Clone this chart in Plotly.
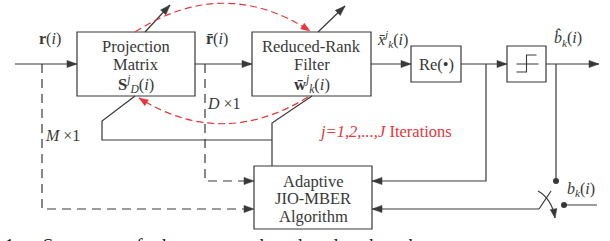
import plotly.graph_objects as go
import math

W, H = 610, 241
INK = "#383838"
RED = "#e8353b"
FONT = "Liberation Serif"

# ---- blocks ----
block_x0 = [77, 252, 411, 507, 254]
block_y0 = [32, 32, 46, 46, 166]
block_x1 = [195, 371, 461, 546, 372]
block_y1 = [96, 96, 82, 82, 229]
block_lines = [
    ["Projection", "Matrix", "<b>S</b><sup><i>j</i></sup><sub><i>D</i></sub>(<i>i</i>)"],
    ["Reduced-Rank", "Filter", "<b>w\u0304</b><sup><i>j</i></sup><sub><i>k</i></sub>(<i>i</i>)"],
    ["Re(•)"],
    [],
    ["Adaptive", "JIO-MBER", "Algorithm"],
]
block_line_y = [[46, 64, 84], [46, 64, 84], [64], [], [181, 198, 216]]

# ---- connections: (points, dashed, arrow) ----
links = [
    ([(15, 64), (77, 64)], False, True),
    ([(195, 64), (252, 64)], False, True),
    ([(371, 64), (411, 64)], False, True),
    ([(461, 64), (507, 64)], False, True),
    ([(546, 64), (599, 64)], False, True),
    ([(42, 64), (42, 209), (254, 209)], True, True),
    ([(205, 64), (205, 181), (254, 181)], True, True),
    ([(486, 64), (486, 181), (372, 181)], False, True),
    ([(556, 64), (556, 181)], False, False),
    ([(539, 209), (372, 209)], False, True),
    ([(539, 209), (551, 191)], False, False),
    ([(564, 205), (597, 205)], False, False),
    ([(135, 96), (102, 121), (102, 140), (272, 140)], False, False),
    ([(312, 96), (272, 123), (272, 166)], False, False),
    ([(145, 32), (170, 5)], False, True),
    ([(318, 32), (345, 6)], False, True),
]

# ---- curved arrows: (start, control, end, colour, dashed) ----
curves = [
    ((135, 32), (224, -25), (310, 31), RED, True),
    ((308, 97), (222, 150), (139, 98), RED, True),
    ((538, 191), (552, 199), (555, 218), INK, False),
]

dots = [(556, 181), (564, 205)]

# ---- signal labels: (text, x, y, colour, size) ----
labels = [
    ("<b>r</b>(<i>i</i>)", 50, 39, INK, 16),
    ("<b>r\u0304</b>(<i>i</i>)", 217, 39, INK, 16),
    ("<i>x\u0304</i><sup><i>j</i></sup><sub><i>k</i></sub>(<i>i</i>)", 392, 39, INK, 16),
    ("<i>b\u0302</i><sub><i>k</i></sub>(<i>i</i>)", 568, 38, INK, 16),
    ("<i>b</i><sub><i>k</i></sub>(<i>i</i>)", 581, 189, INK, 16),
    ("<i>D</i> ×1", 224, 103, INK, 16),
    ("<i>M</i> ×1", 62, 135, INK, 16),
    ("<i>j=1,2,...,J</i> Iterations", 385, 131, RED, 16.5),
]

caption = "Fig. 1.     Structure   of   the   proposed   reduced-rank   scheme"

# ---------------------------------------------------------------
shapes = []
annotations = []


def arrowhead(tip, frm, color, length=10, half=3.6):
    dx, dy = tip[0] - frm[0], tip[1] - frm[1]
    d = math.hypot(dx, dy)
    ux, uy = dx / d, dy / d
    bx, by = tip[0] - ux * length, tip[1] - uy * length
    px, py = -uy * half, ux * half
    path = f"M {tip[0]},{tip[1]} L {bx+px},{by+py} L {bx-px},{by-py} Z"
    shapes.append(dict(type="path", path=path, fillcolor=color,
                       line=dict(color=color, width=0.5), xref="x", yref="y"))


for x0, y0, x1, y1 in zip(block_x0, block_y0, block_x1, block_y1):
    shapes.append(dict(type="rect", x0=x0, y0=y0, x1=x1, y1=y1,
                       line=dict(color=INK, width=1.2), fillcolor="rgba(0,0,0,0)"))

for i, lines in enumerate(block_lines):
    cx = (block_x0[i] + block_x1[i]) / 2
    for t, y in zip(lines, block_line_y[i]):
        annotations.append(dict(x=cx, y=y, text=t, showarrow=False,
                                font=dict(family=FONT, size=16.5, color=INK),
                                xanchor="center", yanchor="middle"))

# step symbol inside the decision block
sx = (block_x0[3] + block_x1[3]) / 2
sy = (block_y0[3] + block_y1[3]) / 2
step_path = (f"M {sx-10},{sy+8} L {sx},{sy+8} L {sx},{sy-9} L {sx+10},{sy-9} "
             f"M {sx-10},{sy} L {sx+12},{sy}")
shapes.append(dict(type="path", path=step_path, line=dict(color=INK, width=1.1)))

for pts, dashed, arrow in links:
    path = "M " + " L ".join(f"{x},{y}" for x, y in pts)
    shapes.append(dict(type="path", path=path,
                       line=dict(color=INK, width=1.2, dash="9px,6px" if dashed else "solid")))
    if arrow:
        arrowhead(pts[-1], pts[-2], INK)

for s, c, e, col, dashed in curves:
    path = f"M {s[0]},{s[1]} Q {c[0]},{c[1]} {e[0]},{e[1]}"
    shapes.append(dict(type="path", path=path,
                       line=dict(color=col, width=1.2, dash="7px,4px" if dashed else "solid")))
    arrowhead(e, c, col, length=9, half=3.4)

for x, y in dots:
    shapes.append(dict(type="circle", x0=x - 3, y0=y - 3, x1=x + 3, y1=y + 3,
                       fillcolor=INK, line=dict(color=INK, width=0)))

for t, x, y, col, size in labels:
    annotations.append(dict(x=x, y=y, text=t, showarrow=False,
                            font=dict(family=FONT, size=size, color=col),
                            xanchor="center", yanchor="middle"))

annotations.append(dict(x=-0.052, xref="paper", y=233, yref="y", text=caption,
                        showarrow=False,
                        font=dict(family=FONT, size=19, color="#111"),
                        xanchor="left", yanchor="top"))

fig = go.Figure()
fig.update_layout(
    width=W, height=H, margin=dict(l=0, r=0, t=0, b=0),
    paper_bgcolor="white", plot_bgcolor="white",
    xaxis=dict(range=[0, W], visible=False, fixedrange=True),
    yaxis=dict(range=[H, 0], visible=False, fixedrange=True),
    shapes=shapes, annotations=annotations, showlegend=False,
)
fig.write_html("out.html", config=dict(displayModeBar=False),
               post_script="document.body.style.margin='0px';document.body.style.overflow='hidden';")
